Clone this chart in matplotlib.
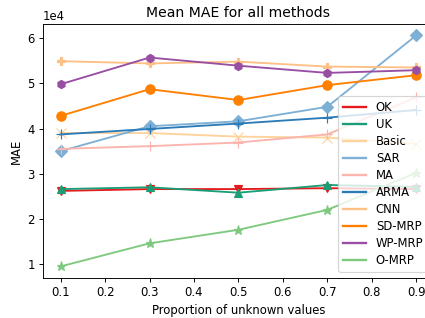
import matplotlib
matplotlib.use("Agg")
import matplotlib.pyplot as plt
from matplotlib.lines import Line2D

proportions = [0.1, 0.3, 0.5, 0.7, 0.9]
methods = ["OK", "UK", "Basic", "SAR", "MA", "ARMA", "CNN", "SD-MRP", "WP-MRP", "O-MRP"]

ok = [26200, 26600, 26600, 26800, 26600]
uk = [26600, 27000, 25800, 27500, 27100]
basic = [39000, 39000, 38200, 38000, 36600]
sar = [35000, 40500, 41600, 44800, 60600]
ma = [35500, 36100, 36900, 38700, 46900]
arma = [38700, 39900, 41100, 42400, 44100]
cnn = [54900, 54400, 54800, 53700, 53500]
sd_mrp = [42800, 48700, 46300, 49600, 51800]
wp_mrp = [49800, 55700, 53900, 52300, 52900]
o_mrp = [9500, 14600, 17600, 22000, 30200]

series = [ok, uk, basic, sar, ma, arma, cnn, sd_mrp, wp_mrp, o_mrp]
colors = ["#e41a1c", "#1b9e77", "#fdd39b", "#7eb0d5", "#fbb4ae",
          "#2c7bb6", "#fdc086", "#ff7f00", "#984ea3", "#7fc97f"]
markers = ["v", "^", "x", "D", "+", "+", "P", "o", "h", "*"]
msizes = [7, 7, 8, 7, 8, 8, 7, 8, 7, 8]

dpi = 84
fig = plt.figure(figsize=(425 / dpi, 318 / dpi), dpi=dpi)
ax = fig.add_axes([0.101, 0.126, 0.92, 0.799])

for vals, c, m, ms in zip(series, colors, markers, msizes):
    ax.plot(proportions, vals, color=c, marker=m, markersize=ms, linewidth=1.6)

ax.ticklabel_format(axis="y", style="sci", scilimits=(4, 4))
ax.set_xticks([0.1, 0.2, 0.3, 0.4, 0.5, 0.6, 0.7, 0.8, 0.9])
ax.set_xlabel("Proportion of unknown values")
ax.set_ylabel("MAE")
ax.set_title("Mean MAE for all methods")

handles = [Line2D([0], [0], color=c, linewidth=2) for c in colors]
ax.legend(handles, methods, loc="lower right", labelspacing=0.35)

fig.savefig("out.png", dpi=dpi)
